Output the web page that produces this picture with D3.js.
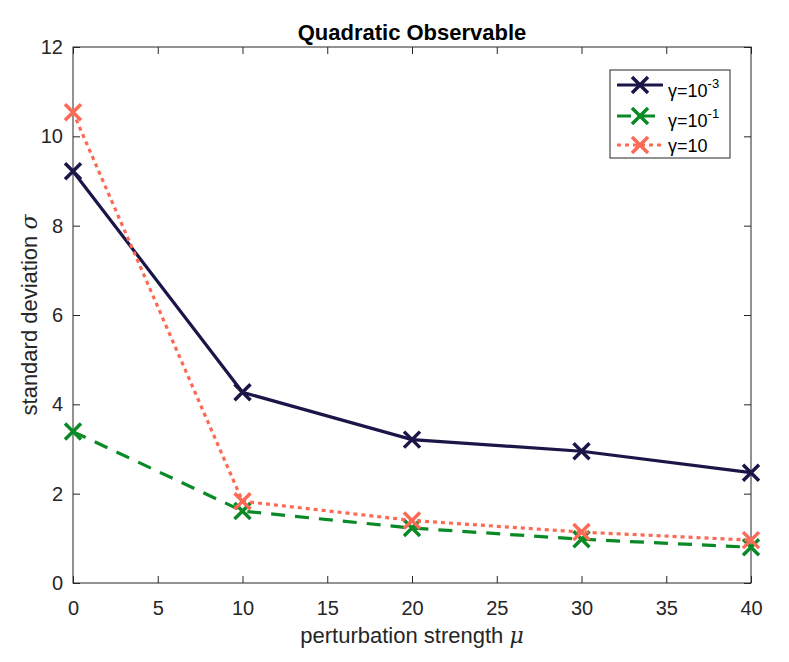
<!DOCTYPE html>
<html><head><meta charset="utf-8">
<script src="https://cdn.jsdelivr.net/npm/d3@7"></script>
<style>body{margin:0;background:#fff;} svg{display:block;font-family:"Liberation Sans",Arial,sans-serif;}</style>
</head><body>
<script>
const xValues = [0, 10, 20, 30, 40];
const seriesNames = ["γ=10^-3", "γ=10^-1", "γ=10"];
const navyValues = [9.22, 4.27, 3.21, 2.95, 2.47];
const greenValues = [3.39, 1.61, 1.23, 0.98, 0.80];
const salmonValues = [10.54, 1.83, 1.40, 1.14, 0.96];
const xTicks = [0, 5, 10, 15, 20, 25, 30, 35, 40];
const yTicks = [0, 2, 4, 6, 8, 10, 12];

const W = 789, H = 662;
const m = {left: 73, right: 789-751, top: 47, bottom: 662-583};
const svg = d3.select("body").append("svg").attr("width", W).attr("height", H);
const x = d3.scaleLinear().domain([0, 40]).range([m.left, W - m.right]);
const y = d3.scaleLinear().domain([0, 12]).range([H - m.bottom, m.top]);
const axisColor = "#262626";

svg.append("rect").attr("x", x(0)).attr("y", y(12)).attr("width", x(40)-x(0)).attr("height", y(0)-y(12))
  .attr("fill", "none").attr("stroke", axisColor).attr("stroke-width", 1);

function styleAxis(g){ g.select(".domain").remove(); g.selectAll("line").attr("stroke", axisColor);
  g.selectAll("text").attr("fill", axisColor).style("font-size", "20px").style("font-family", '"Liberation Sans",Arial,sans-serif'); }

svg.append("g").attr("transform", `translate(0,${y(0)})`)
  .call(d3.axisBottom(x).tickValues(xTicks).tickSize(-7).tickPadding(18)).call(styleAxis);
svg.append("g").attr("transform", `translate(0,${y(12)})`)
  .call(d3.axisTop(x).tickValues(xTicks).tickSize(-7).tickFormat("")).call(styleAxis);
svg.append("g").attr("transform", `translate(${x(0)},0)`)
  .call(d3.axisLeft(y).tickValues(yTicks).tickSize(-7).tickPadding(10)).call(styleAxis);
svg.append("g").attr("transform", `translate(${x(40)},0)`)
  .call(d3.axisRight(y).tickValues(yTicks).tickSize(-7).tickFormat("")).call(styleAxis);

const series = [
  {vals: navyValues, color: "#1b1648", dash: null},
  {vals: greenValues, color: "#0a8a26", dash: "14,10"},
  {vals: salmonValues, color: "#fc6a55", dash: "4,4"}
];
const line = d3.line().x((d,i) => x(xValues[i])).y(d => y(d));
const ms = 8;
function marker(g, cx, cy, color){
  g.append("path").attr("d", `M${cx-ms},${cy-ms}L${cx+ms},${cy+ms}M${cx-ms},${cy+ms}L${cx+ms},${cy-ms}`)
   .attr("stroke", color).attr("stroke-width", 3.5).attr("fill", "none");
}
series.forEach(s => {
  svg.append("path").datum(s.vals).attr("d", line).attr("fill", "none").attr("stroke", s.color)
    .attr("stroke-width", 3.2).attr("stroke-dasharray", s.dash);
  const g = svg.append("g");
  s.vals.forEach((v,i) => marker(g, x(xValues[i]), y(v), s.color));
});

svg.append("text").attr("x", (x(0)+x(40))/2).attr("y", 40).attr("text-anchor", "middle")
  .style("font-size", "22px").style("font-weight", "bold").attr("fill", "#000").text("Quadratic Observable");
const xl = svg.append("text").attr("x", (x(0)+x(40))/2).attr("y", 643).attr("text-anchor", "middle")
  .style("font-size", "22px").attr("fill", axisColor);
xl.append("tspan").text("perturbation strength ");
xl.append("tspan").style("font-family", '"DejaVu Serif",serif').style("font-style", "italic").text("μ");
const yl = svg.append("text").attr("transform", `translate(37,${(y(0)+y(12))/2}) rotate(-90)`).attr("text-anchor", "middle")
  .style("font-size", "22px").attr("fill", axisColor);
yl.append("tspan").text("standard deviation ");
yl.append("tspan").style("font-family", '"DejaVu Serif",serif').style("font-style", "italic").text("σ");

const lg = svg.append("g");
lg.append("rect").attr("x", 610).attr("y", 70).attr("width", 120).attr("height", 88)
  .attr("fill", "#fff").attr("stroke", axisColor).attr("stroke-width", 1);
const rows = [85, 116, 145];
const textBase = [97, 127, 152];
const labels = [["10","-3"],["10","-1"],["10",null]];
series.forEach((s,i) => {
  const cy = rows[i];
  lg.append("line").attr("x1", 617).attr("x2", 663).attr("y1", cy).attr("y2", cy)
    .attr("stroke", s.color).attr("stroke-width", 3.2).attr("stroke-dasharray", s.dash);
  marker(lg, 640, cy, s.color);
  const t = lg.append("text").attr("x", 668).attr("y", textBase[i]).style("font-size", "18px").attr("fill", "#000");
  t.append("tspan").text("γ=" + labels[i][0]);
  if (labels[i][1]) t.append("tspan").attr("dy", -9).style("font-size", "13px").text(labels[i][1]);
});
</script>
</body></html>
